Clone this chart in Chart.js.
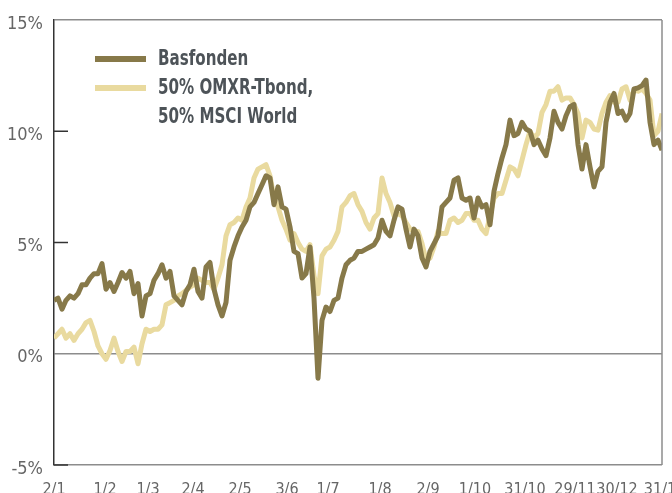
<!DOCTYPE html>
<html lang="sv">
<head>
    <meta charset="UTF-8">
    <title>Basfonden</title>
    <script src="https://cdn.jsdelivr.net/npm/chart.js"></script>
    <style>
        body {
            margin: 0;
            background: white;
        }
        #wrap {
            position: relative;
            width: 672px;
            height: 493px;
            overflow: hidden;
        }
        #legend {
            position: absolute;
            left: 95px;
            top: 44px;
            font-family: 'Liberation Sans Narrow', 'DejaVu Sans Condensed', sans-serif;
            font-weight: bold;
            font-size: 21px;
            color: #4d5358;
            line-height: 29px;
        }
        .item {
            display: flex;
            align-items: flex-start;
        }
        .swatch {
            width: 51px;
            height: 6px;
            margin-top: 12px;
            margin-right: 12px;
            flex: none;
        }
        .label {
            display: inline-block;
            transform: scaleX(0.8);
            transform-origin: left top;
            white-space: nowrap;
        }
    </style>
</head>
<body>
<div id="wrap">
    <canvas id="chart" width="672" height="493"></canvas>
    <div id="legend"></div>
</div>
<script>
    // x positions are trading-day steps, tick labels sit at these steps
    const xTickPos = [0, 12.75, 23.5, 34.75, 46.5, 58.25, 68.5, 81.5, 93.5, 105.25, 117.75, 130.25, 140.75, 151.5];
    const xTickLabels = ['2/1', '1/2', '1/3', '2/4', '2/5', '3/6', '1/7', '1/8', '2/9', '1/10', '31/10', '29/11', '30/12', '31/1'];

    const seriesNames = ['Basfonden', '50% OMXR-Tbond,\n50% MSCI World'];
    const seriesColors = ['#877949', '#e9da9f'];

    // return in %
    const basfonden = [
        2.4, 2.5, 2.0, 2.4, 2.6, 2.5, 2.7, 3.1, 3.1, 3.4,
        3.6, 3.6, 4.05, 2.9, 3.2, 2.8, 3.2, 3.65, 3.4, 3.7,
        2.7, 3.15, 1.7, 2.6, 2.7, 3.3, 3.6, 4.0, 3.4, 3.7,
        2.6, 2.4, 2.2, 2.8, 3.1, 3.8, 2.8, 2.5, 3.9, 4.1,
        2.9, 2.2, 1.7, 2.3, 4.2, 4.8, 5.3, 5.7, 6.0, 6.6,
        6.8, 7.2, 7.6, 8.0, 7.9, 6.7, 7.5, 6.6, 6.5, 5.7,
        4.6, 4.5, 3.4, 3.6, 4.8, 2.5, -1.1, 1.5, 2.1, 1.9,
        2.4, 2.5, 3.4, 4.0, 4.2, 4.3, 4.6, 4.6, 4.7, 4.8,
        4.9, 5.2, 6.0, 5.5, 5.3, 6.0, 6.6, 6.5, 5.6, 4.8,
        5.6, 5.3, 4.3, 3.9, 4.6, 4.95, 5.3, 6.6, 6.8, 7.0,
        7.8, 7.9, 7.0, 6.9, 7.0, 6.1, 7.0, 6.6, 6.7, 5.8,
        7.3, 8.1, 8.8, 9.4, 10.5, 9.8, 9.9, 10.4, 10.1, 10.0,
        9.4, 9.6, 9.2, 8.9, 9.7, 10.9, 10.4, 10.1, 10.7, 11.1,
        11.2, 9.4, 8.3, 9.4, 8.4, 7.5, 8.2, 8.4, 10.4, 11.3,
        11.7, 10.8, 10.9, 10.5, 10.8, 11.9, 11.95, 12.05, 12.3, 10.4,
        9.4, 9.6, 9.15
    ];

    const benchmark = [
        0.7, 0.9, 1.1, 0.7, 0.9, 0.6, 0.9, 1.1, 1.4, 1.5,
        1.0, 0.35, 0.0, -0.25, 0.15, 0.7, 0.1, -0.35, 0.1, 0.1,
        0.3, -0.45, 0.45, 1.1, 1.0, 1.1, 1.1, 1.3, 2.2, 2.3,
        2.4, 2.6, 2.7, 2.85, 3.0, 3.1, 3.4, 3.3, 3.2, 3.2,
        2.9, 3.4, 4.0, 5.3, 5.8, 5.9, 6.1, 6.0, 6.6, 7.0,
        7.9, 8.3, 8.4, 8.5, 8.0, 7.0, 6.6, 6.0, 5.6, 5.1,
        5.4, 5.0, 4.7, 4.6, 4.9, 3.5, 2.7, 4.4, 4.7, 4.8,
        5.1, 5.5, 6.6, 6.8, 7.1, 7.2, 6.7, 6.4, 5.9, 5.6,
        6.1, 6.3, 7.9, 7.2, 6.8, 6.2, 6.3, 6.2, 5.9, 5.6,
        5.5, 5.5, 4.95, 4.2, 4.3, 4.8, 5.5, 5.4, 5.4, 6.0,
        6.1, 5.9, 6.0, 6.3, 6.3, 6.0, 6.0, 5.6, 5.4, 6.2,
        7.0, 7.2, 7.2, 7.8, 8.4, 8.3, 8.0, 8.7, 9.4, 10.0,
        9.7, 9.9, 10.85, 11.2, 11.8, 11.8, 12.0, 11.4, 11.5, 11.5,
        11.2, 10.8, 9.7, 10.5, 10.4, 10.1, 10.05, 10.8, 11.3, 11.6,
        11.3, 11.3, 11.9, 12.0, 11.4, 11.85, 11.8, 11.9, 11.7, 11.4,
        9.8, 10.0, 10.8
    ];

    const yTicks = [-5, 0, 5, 10, 15];
    const innerTicks = [10, 5, -5];

    const font = "'Liberation Sans Narrow', 'DejaVu Sans Condensed', sans-serif";

    // legend as html
    let legendHtml = '';
    seriesNames.forEach((name, i) => {
        legendHtml += `<div class="item"><span class="swatch" style="background:${seriesColors[i]}"></span><span class="label">${name.replace('\n', '<br>')}</span></div>`;
    });
    document.getElementById('legend').innerHTML = legendHtml;

    const framePlugin = {
        id: 'frame',
        afterDraw(chart) {
            const ctx = chart.ctx;
            const area = chart.chartArea;
            const y = chart.scales.y;
            ctx.save();
            ctx.lineWidth = 1.5;
            ctx.strokeStyle = '#8c8c8c';
            ctx.beginPath();
            ctx.moveTo(area.right, area.top);
            ctx.lineTo(area.right, area.bottom);
            ctx.stroke();
            ctx.strokeStyle = '#333';
            innerTicks.forEach(v => {
                const py = y.getPixelForValue(v);
                ctx.beginPath();
                ctx.moveTo(area.left, py);
                ctx.lineTo(area.left + 14, py);
                ctx.stroke();
            });
            ctx.restore();
        }
    };

    new Chart(document.getElementById('chart'), {
        type: 'line',
        data: {
            datasets: [
                {
                    label: seriesNames[0],
                    data: basfonden.map((v, i) => ({ x: i, y: v })),
                    borderColor: seriesColors[0],
                    borderWidth: 5,
                    pointRadius: 0,
                    borderJoinStyle: 'round',
                    tension: 0
                },
                {
                    label: seriesNames[1],
                    data: benchmark.map((v, i) => ({ x: i, y: v })),
                    borderColor: seriesColors[1],
                    borderWidth: 5,
                    pointRadius: 0,
                    borderJoinStyle: 'round',
                    tension: 0
                }
            ]
        },
        options: {
            responsive: false,
            animation: false,
            devicePixelRatio: 1,
            layout: { padding: { top: 20, right: 10, left: 0, bottom: 0 } },
            plugins: {
                legend: { display: false },
                tooltip: { enabled: false }
            },
            scales: {
                x: {
                    type: 'linear',
                    min: 0,
                    max: basfonden.length - 1,
                    grid: { display: false, drawTicks: false },
                    border: { display: false },
                    afterBuildTicks: axis => {
                        axis.ticks = xTickPos.map(v => ({ value: v }));
                    },
                    afterFit: s => {
                        s.height = 28;
                        s.paddingLeft = 0;
                        s.paddingRight = 0;
                    },
                    ticks: {
                        autoSkip: false,
                        maxRotation: 0,
                        padding: 15,
                        color: '#666',
                        font: { family: font, size: 16 },
                        callback: v => xTickLabels[xTickPos.indexOf(v)]
                    }
                },
                y: {
                    min: -5,
                    max: 15,
                    afterBuildTicks: axis => {
                        axis.ticks = yTicks.map(v => ({ value: v }));
                    },
                    afterFit: s => {
                        s.width = 54;
                        s.paddingTop = 0;
                        s.paddingBottom = 0;
                    },
                    grid: {
                        drawTicks: false,
                        lineWidth: 1.5,
                        color: c => (c.tick && (c.tick.value === 0 || c.tick.value === 15 || c.tick.value === -5)) ? '#8c8c8c' : 'rgba(0,0,0,0)'
                    },
                    border: { color: '#333', width: 1.5 },
                    ticks: {
                        padding: 11,
                        labelOffset: 4,
                        color: '#666',
                        font: { family: font, size: 18 },
                        callback: v => v + '%'
                    }
                }
            }
        },
        plugins: [framePlugin]
    });
</script>
</body>
</html>
